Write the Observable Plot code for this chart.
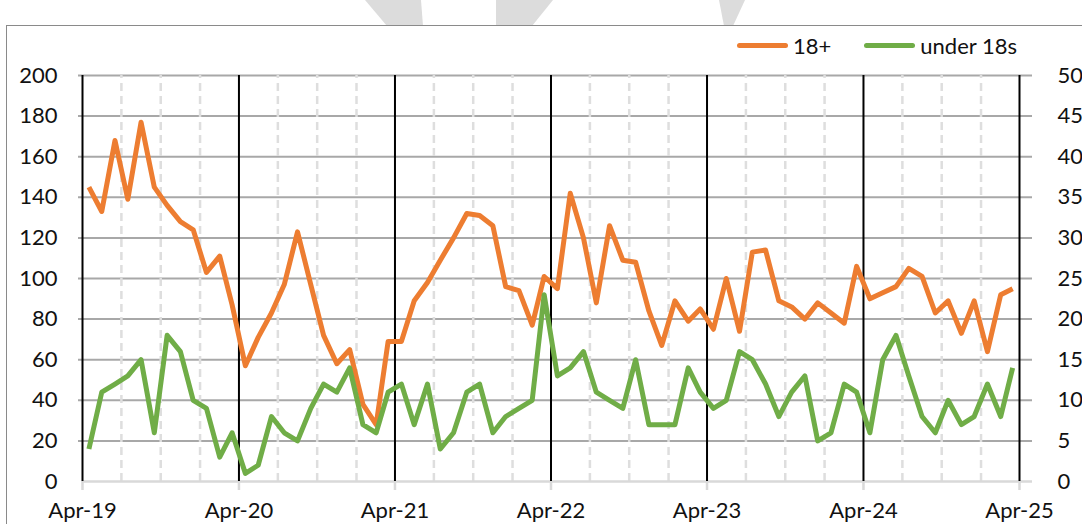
<!DOCTYPE html>
<html>
<head>
<meta charset="utf-8">
<script src="https://cdn.jsdelivr.net/npm/d3@7"></script>
<script src="https://cdn.jsdelivr.net/npm/@observablehq/plot@0.6"></script>
<style>
  html, body { margin: 0; padding: 0; background: #fff; }
  #wrap { position: relative; width: 1082px; height: 524px; overflow: hidden; font-family: Lato, "Open Sans", sans-serif; }
  #wm { position: absolute; left: 0; top: 0; width: 1082px; height: 30px; }
  #frame { position: absolute; left: 6px; top: 25px; width: 1100px; height: 520px; border-top: 1.5px solid #8a8a8a; border-left: 1.5px solid #8a8a8a; background: #fff; }
  #legend { position: absolute; top: 31px; left: 737px; height: 28px; display: flex; align-items: center; font-size: 22px; color: #111; }
  .sw { display: inline-block; width: 51px; height: 5px; border-radius: 3px; margin-right: 5px; }
  .item { display: flex; align-items: center; margin-right: 33px; }
  #chart { position: absolute; left: 0; top: 60px; }
</style>
</head>
<body>
<div id="wrap">
  <svg id="wm" width="1082" height="30">
    <polygon points="365,0 421,0 423,26 387,26" fill="#dcdcdc"/>
    <polygon points="496,0 553,0 532,26 496,26" fill="#dcdcdc"/>
    <polygon points="719,0 745,0 733,26 724,26" fill="#dcdcdc"/>
  </svg>
  <div id="frame"></div>
  <div id="legend"></div>
  <div id="chart"></div>
</div>
<script>
// ---- data ----
const startYear = 2019, startMonth = 3; // April 2019 (month index 3)
const seriesNames = ["18+", "under 18s"];
const seriesColors = ["#ED7D31", "#70AD47"];
// 18+ (left axis), monthly Apr-19 .. Mar-25
const adults = [145,133,168,139,177,145,136,128,124,103,
                111,87,57,71,83,97,123,97,72,58,
                65,38,28,69,69,89,98,109,120,132,
                131,126,96,94,77,101,95,142,120,88,
                126,109,108,84,67,89,79,85,75,100,
                74,113,114,89,86,80,88,83,78,106,
                90,93,96,105,101,83,89,73,89,64,
                92,95];
// under 18s (right axis), monthly Apr-19 .. Mar-25
const under18 = [4,11,12,13,15,6,18,16,10,9,
                 3,6,1,2,8,6,5,9,12,11,
                 14,7,6,11,12,7,12,4,6,11,
                 12,6,8,9,10,23,13,14,16,11,
                 10,9,15,7,7,7,14,11,9,10,
                 16,15,12,8,11,13,5,6,12,11,
                 6,15,18,13,8,6,10,7,8,12,
                 8,14];
const leftTicks = [0,20,40,60,80,100,120,140,160,180,200];
const rightTicks = [0,5,10,15,20,25,30,35,40,45,50];
const xTickLabels = ["Apr-19","Apr-20","Apr-21","Apr-22","Apr-23","Apr-24","Apr-25"];

// ---- derived ----
const ratio = 200 / 50;
const monthDate = i => new Date(Date.UTC(startYear, startMonth + i, 16));
const rows = [];
adults.forEach((v, i) => rows.push({date: monthDate(i), y: v, s: seriesNames[0]}));
under18.forEach((v, i) => rows.push({date: monthDate(i), y: v * ratio, s: seriesNames[1]}));
const yearDates = xTickLabels.map((_, k) => new Date(Date.UTC(startYear + k, startMonth, 1)));
const x0 = yearDates[0], x1 = yearDates[yearDates.length - 1];
const quarterDates = d3.utcMonth.every(3).range(x0, x1).filter(d => d.getUTCMonth() !== startMonth);

// legend
const leg = document.getElementById("legend");
seriesNames.forEach((n, k) => {
  const it = document.createElement("div");
  it.className = "item";
  it.innerHTML = `<span class="sw" style="background:${seriesColors[k]}"></span><span>${n}</span>`;
  leg.appendChild(it);
});

const chart = Plot.plot({
  width: 1082,
  height: 464,
  marginLeft: 82,
  marginRight: 63,
  marginTop: 15,
  marginBottom: 43,
  style: {fontFamily: "Lato, 'Open Sans', sans-serif", background: "transparent", overflow: "visible"},
  x: {type: "utc", domain: [x0, x1], label: null},
  y: {type: "linear", domain: [0, 200], label: null},
  color: {domain: seriesNames, range: seriesColors},
  marks: [
    Plot.ruleY(leftTicks.filter(d => d > 0), {stroke: "#a8a8a8", strokeWidth: 2, insetLeft: -4, insetRight: -13}),
    Plot.ruleX(quarterDates, {y1: 0, y2: 200, stroke: "#dedede", strokeWidth: 2.5, strokeDasharray: "8,5"}),
    Plot.ruleY([0], {stroke: "#d9d9d9", strokeWidth: 2.5, insetRight: -13}),
    Plot.axisX({ticks: yearDates, tickFormat: () => "", tickSize: 9, stroke: "#d9d9d9", strokeWidth: 2.5, label: null}),
    Plot.ruleX(yearDates, {y1: 0, y2: 200, stroke: "#000", strokeWidth: 2}),
    Plot.lineY(rows, {x: "date", y: "y", z: "s", stroke: "s", strokeWidth: 5, strokeLinejoin: "round", strokeLinecap: "butt"}),
    Plot.axisY({ticks: leftTicks, tickSize: 0, tickPadding: 25, fontSize: 22, fill: "#111", label: null}),
    Plot.axisY({anchor: "right", ticks: leftTicks, tickFormat: d => String(d / ratio), tickSize: 0, tickPadding: 38, textAnchor: "start", fontSize: 22, fill: "#111", label: null}),
    Plot.axisX({ticks: yearDates, tickFormat: (d, i) => xTickLabels[i], tickSize: 0, tickPadding: 21, fontSize: 22, fill: "#111", label: null})
  ]
});
document.getElementById("chart").appendChild(chart);
</script>
</body>
</html>
